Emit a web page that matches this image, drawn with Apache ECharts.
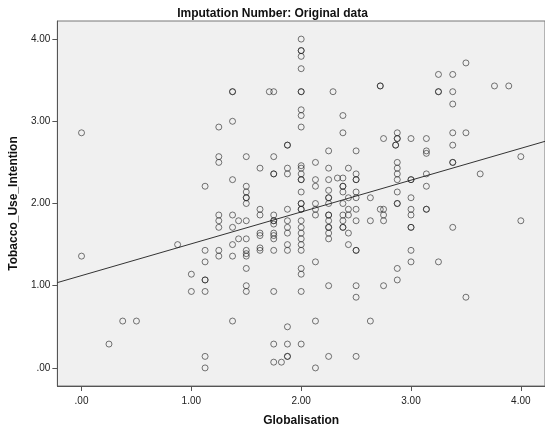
<!DOCTYPE html>
<html>
<head>
<meta charset="utf-8">
<script src="https://cdn.jsdelivr.net/npm/echarts@6/dist/echarts.min.js"></script>
<style>
html,body{margin:0;padding:0;background:#fff;}
#chart{width:545px;height:437px;}
</style>
</head>
<body>
<div id="chart"></div>
<script>
// Title and axis names
const chartTitle = 'Imputation Number: Original data';
const xName = 'Globalisation';
const yName = 'Tobacco_Use_Intention';

// Tick values
const xTicks = [0, 1, 2, 3, 4];
const yTicks = [0, 1, 2, 3, 4];
const axisMin = -0.22;
const axisMax = 4.22;

// Observations, grouped by Globalisation value: [x, [Tobacco_Use_Intention values]]
const observations = [
  [0,     [2.86, 1.36]],
  [0.25,  [0.29]],
  [0.375, [0.57]],
  [0.5,   [0.57]],
  [0.875, [1.5]],
  [1.0,   [1.14, 0.93]],
  [1.125, [2.21, 1.43, 1.29, 1.07, 1.07, 0.93, 0.14, 0]],
  [1.25,  [2.93, 2.57, 2.5, 1.86, 1.79, 1.71, 1.43, 1.36]],
  [1.375, [3.36, 3.36, 3.0, 2.29, 1.86, 1.71, 1.5, 1.36, 0.57]],
  [1.43,  [1.79, 1.57]],
  [1.5,   [2.57, 2.21, 2.14, 2.07, 2.07, 2.0, 1.79, 1.57, 1.43, 1.39, 1.36, 1.21, 1.0, 0.93]],
  [1.625, [2.43, 1.93, 1.86, 1.64, 1.61, 1.46, 1.43]],
  [1.71,  [3.36]],
  [1.75,  [3.36, 2.57, 2.36, 2.36, 1.86, 1.79, 1.79, 1.75, 1.64, 1.61, 1.57, 1.43, 0.93, 0.29, 0.07]],
  [1.82,  [0.07]],
  [1.875, [2.71, 2.71, 2.43, 2.36, 1.93, 1.79, 1.71, 1.64, 1.5, 1.43, 0.5, 0.29, 0.14, 0.14]],
  [2.0,   [4.0, 3.86, 3.86, 3.79, 3.64, 3.36, 3.36, 3.14, 3.07, 2.93, 2.46, 2.43, 2.36, 2.29, 2.29, 2.14, 2.0, 2.0, 1.93, 1.93, 1.79, 1.71, 1.64, 1.57, 1.5, 1.43, 1.21, 1.14, 0.93, 0.29]],
  [2.13,  [2.5, 2.29, 2.21, 2.0, 1.93, 1.86, 1.29, 0.57, 0]],
  [2.25,  [2.64, 2.43, 2.29, 2.16, 2.07, 2.07, 2.0, 1.86, 1.86, 1.79, 1.71, 1.71, 1.64, 1.57, 1.0, 0.14]],
  [2.29,  [3.36]],
  [2.33,  [2.31]],
  [2.38,  [3.07, 2.86, 2.31, 2.21, 2.21, 2.14, 2.0, 1.86, 1.79, 1.71, 1.71]],
  [2.43,  [2.43, 2.07, 1.93, 1.86, 1.64, 1.5]],
  [2.5,   [2.64, 2.36, 2.29, 2.29, 2.14, 2.07, 1.93, 1.79, 1.43, 1.43, 1.0, 0.86, 0.14]],
  [2.63,  [2.07, 1.79, 0.57]],
  [2.72,  [3.43, 3.43, 1.93]],
  [2.75,  [2.79, 1.93, 1.86, 1.79, 1.0]],
  [2.86,  [2.71, 2.71]],
  [2.875, [2.86, 2.79, 2.79, 2.5, 2.43, 2.36, 2.29, 2.14, 2.0, 2.0, 1.21, 1.07]],
  [3.0,   [2.79, 2.29, 2.29, 2.07, 1.93, 1.86, 1.71, 1.71, 1.43, 1.29]],
  [3.14,  [2.79, 2.64, 2.61, 2.36, 2.21, 1.93, 1.93]],
  [3.25,  [3.57, 3.36, 3.36, 1.29]],
  [3.38,  [3.57, 3.36, 3.21, 2.86, 2.71, 2.5, 2.5, 1.71]],
  [3.5,   [3.71, 2.86, 0.86]],
  [3.63,  [2.36]],
  [3.76,  [3.43]],
  [3.89,  [3.43]],
  [4.0,   [2.57, 1.79]]
];

// Linear fit line (intercept, slope)
const fitIntercept = 1.123;
const fitSlope = 0.387;

const points = [];
observations.forEach(function (col) {
  col[1].forEach(function (y) { points.push([col[0], y]); });
});
const fitLine = [
  [axisMin, fitIntercept + fitSlope * axisMin],
  [axisMax, fitIntercept + fitSlope * axisMax]
];

const fontFam = '"Liberation Sans", Arial, sans-serif';
function fmt(v) { return v === 0 ? '.00' : v.toFixed(2); }

const chart = echarts.init(document.getElementById('chart'), null, {renderer: 'canvas'});
chart.setOption({
  animation: false,
  backgroundColor: '#ffffff',
  title: {
    text: chartTitle,
    left: 'center',
    top: 3,
    textStyle: {fontFamily: fontFam, fontSize: 12, fontWeight: 'bold', color: '#111'}
  },
  grid: {
    left: 54, right: 0, top: 21, bottom: 51,
    show: true, backgroundColor: '#f0f0f0', borderColor: '#777', borderWidth: 1
  },
  xAxis: {
    type: 'value',
    min: axisMin, max: axisMax,
    name: xName,
    nameLocation: 'middle',
    nameGap: 29,
    nameTextStyle: {fontFamily: fontFam, fontSize: 12, fontWeight: 'bold', color: '#111'},
    axisLine: {show: true, onZero: false, lineStyle: {color: '#555', width: 1}},
    axisTick: {show: true, customValues: xTicks, length: 5, lineStyle: {color: '#555'}},
    axisLabel: {customValues: xTicks, formatter: fmt, fontFamily: fontFam, fontSize: 10, color: '#222', margin: 10},
    splitLine: {show: false}
  },
  yAxis: {
    type: 'value',
    min: axisMin, max: axisMax,
    name: yName,
    nameLocation: 'middle',
    nameGap: 34,
    nameTextStyle: {fontFamily: fontFam, fontSize: 12, fontWeight: 'bold', color: '#111'},
    axisLine: {show: true, onZero: false, lineStyle: {color: '#555', width: 1}},
    axisTick: {show: true, customValues: yTicks, length: 5, lineStyle: {color: '#555'}},
    axisLabel: {customValues: yTicks, formatter: fmt, fontFamily: fontFam, fontSize: 10, color: '#222', margin: 7},
    splitLine: {show: false}
  },
  series: [
    {
      type: 'scatter',
      data: points,
      symbol: 'circle',
      symbolSize: 6,
      itemStyle: {color: 'rgba(0,0,0,0)', borderColor: 'rgba(30,30,30,0.75)', borderWidth: 1},
      emphasis: {disabled: true},
      z: 3
    },
    {
      type: 'line',
      data: fitLine,
      symbol: 'none',
      lineStyle: {color: '#333', width: 1},
      emphasis: {disabled: true},
      z: 2
    }
  ]
});
</script>
</body>
</html>
